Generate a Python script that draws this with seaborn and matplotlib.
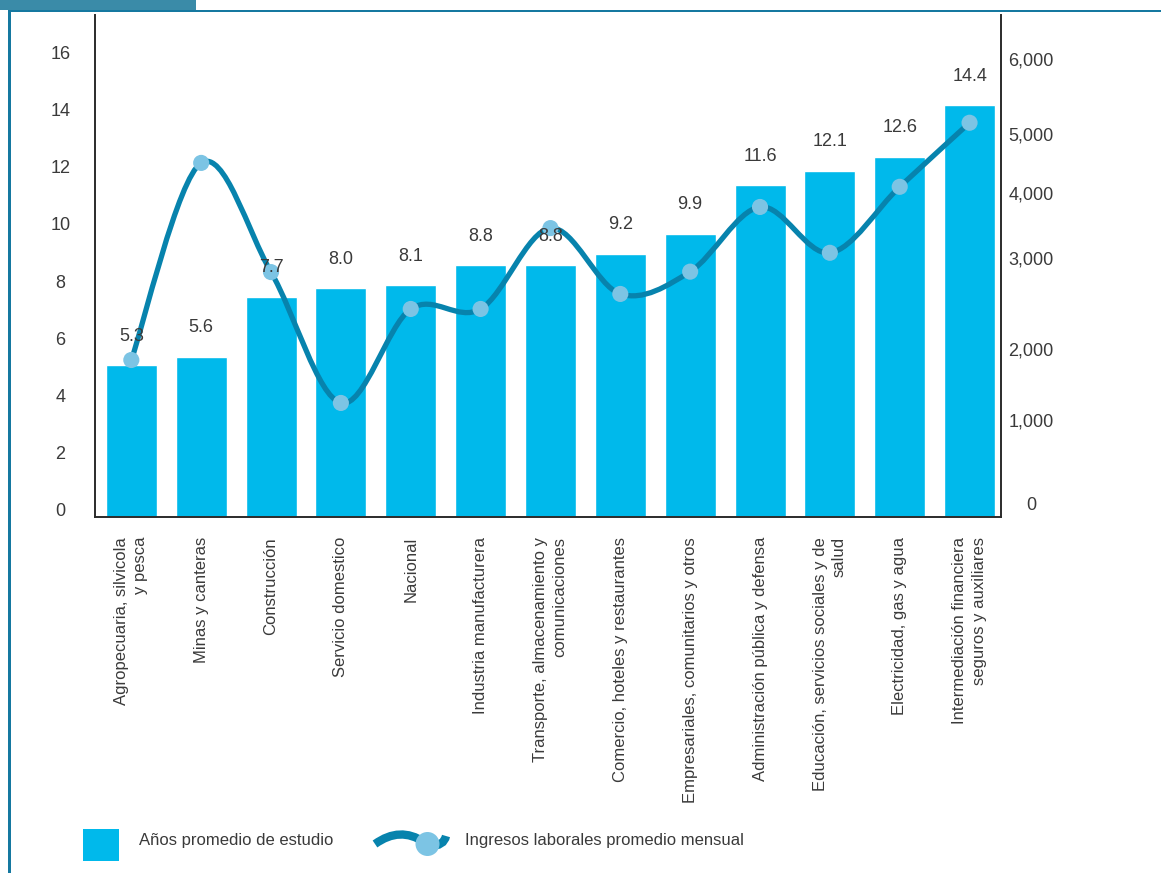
import numpy as np
import pandas as pd
import matplotlib
matplotlib.use("Agg")
import matplotlib.pyplot as plt
import matplotlib.transforms as mtransforms
from matplotlib.path import Path
from matplotlib.patches import PathPatch, Rectangle, Circle
import seaborn as sns

# ---------------- data ----------------
categories = [
    "Agropecuaria, silvicola\ny pesca",
    "Minas y canteras",
    "Construcción",
    "Servicio domestico",
    "Nacional",
    "Industria manufacturera",
    "Transporte, almacenamiento y\ncomunicaciones",
    "Comercio, hoteles y restaurantes",
    "Empresariales, comunitarios y otros",
    "Administración pública y defensa",
    "Educación, servicios sociales y de\nsalud",
    "Electricidad, gas y agua",
    "Intermediación financiera\nseguros y auxiliares",
]
years = [5.3, 5.6, 7.7, 8.0, 8.1, 8.8, 8.8, 9.2, 9.9, 11.6, 12.1, 12.6, 14.4]
income = [1845, 4510, 2845, 1240, 2440, 2440, 3460, 2605, 2850, 3785, 3080, 4105, 5150]
left_ticks = [0, 2, 4, 6, 8, 10, 12, 14, 16]
right_ticks = [0, 1000, 2000, 3000, 4000, 5000, 6000]
legend_labels = ["Años promedio de estudio", "Ingresos laborales promedio mensual"]

# ---------------- style ----------------
W, H = 1161, 873
BAR = "#00b9eb"
LINE = "#0783ad"
MARK = "#7cc4e4"
TXT = "#3a3a3a"
FRAME = "#1578a0"
TAB = "#3a8ba8"
# pixel height (above the x axis) where the right-axis labels sit in the original
RIGHT_H = np.array([13, 97, 168, 259, 324, 383, 458], float)
RV = np.array(right_ticks, float)

sns.set_style("white")
plt.rcParams["font.family"] = ["Liberation Sans", "DejaVu Sans"]
plt.rcParams["text.color"] = TXT

fig = plt.figure(figsize=(W / 100, H / 100), dpi=100)
ax_l, ax_r, ax_b, ax_t = 95, 1001, 517, 15
ax = fig.add_axes([ax_l / W, 1 - ax_b / H, (ax_r - ax_l) / W, (ax_b - ax_t) / H])

df = pd.DataFrame({"cat": categories, "years": years, "income": income})
sns.barplot(data=df, x="cat", y="years", ax=ax, color=BAR, saturation=1,
            width=0.73, zorder=2)

ax.set_ylim(0, (ax_b - ax_t) / 28.6)
ax.set_xlim(-0.52, len(categories) - 1 + 0.45)
ax.set_yticks(left_ticks)
ax.set_xlabel("")
ax.set_ylabel("")
for s in ["left", "bottom", "right"]:
    ax.spines[s].set_visible(True)
    ax.spines[s].set_color("#2b2b2b")
    ax.spines[s].set_linewidth(1.4)
ax.spines["top"].set_visible(False)
ax.tick_params(axis="y", length=0, pad=24.8, labelsize=13, labelcolor=TXT)
ax.tick_params(axis="x", length=0, pad=14.4, labelsize=12, labelcolor=TXT)
shift = mtransforms.ScaledTranslation(0, 7 / 100, fig.dpi_scale_trans)
for lab in ax.get_yticklabels():
    lab.set_ha("center")
    lab.set_transform(lab.get_transform() + shift)
ax.set_xticks(range(len(categories)))
ax.set_xticklabels(categories, rotation=90, ha="center", va="top",
                   multialignment="right", linespacing=1.35)

# ---------------- right axis ----------------
def fwd(v):
    v = np.asarray(v, float)
    out = np.interp(v, RV, RIGHT_H)
    lo_s = (RIGHT_H[1] - RIGHT_H[0]) / (RV[1] - RV[0])
    hi_s = (RIGHT_H[-1] - RIGHT_H[-2]) / (RV[-1] - RV[-2])
    out = np.where(v < RV[0], RIGHT_H[0] + (v - RV[0]) * lo_s, out)
    out = np.where(v > RV[-1], RIGHT_H[-1] + (v - RV[-1]) * hi_s, out)
    return out


def inv(h):
    h = np.asarray(h, float)
    out = np.interp(h, RIGHT_H, RV)
    lo_s = (RV[1] - RV[0]) / (RIGHT_H[1] - RIGHT_H[0])
    hi_s = (RV[-1] - RV[-2]) / (RIGHT_H[-1] - RIGHT_H[-2])
    out = np.where(h < RIGHT_H[0], RV[0] + (h - RIGHT_H[0]) * lo_s, out)
    out = np.where(h > RIGHT_H[-1], RV[-1] + (h - RIGHT_H[-1]) * hi_s, out)
    return out


ax2 = ax.twinx()
ax2.set_yscale("function", functions=(fwd, inv))
ax2.set_ylim(float(inv(0)), float(inv(ax_b - ax_t)))
ax2.set_yticks(right_ticks)
ax2.set_yticklabels([f"{t:,}" for t in right_ticks])
ax2.tick_params(axis="y", length=0, pad=21.6, labelsize=13, labelcolor=TXT)
for lab in ax2.get_yticklabels():
    lab.set_ha("center")
for s in ax2.spines.values():
    s.set_visible(False)
ax2.grid(False)

# smooth (Catmull-Rom) curve through the income points, built in scaled space
xs = np.arange(len(income), dtype=float)
hs = fwd(income)
P = np.column_stack([xs, hs])
Pp = np.vstack([P[0], P, P[-1]])
verts = [P[0]]
codes = [Path.MOVETO]
for i in range(len(P) - 1):
    c1 = Pp[i + 1] + (Pp[i + 2] - Pp[i]) / 6
    c2 = Pp[i + 2] - (Pp[i + 3] - Pp[i + 1]) / 6
    verts += [c1, c2, Pp[i + 2]]
    codes += [Path.CURVE4] * 3
verts = np.array(verts)
verts[:, 1] = inv(verts[:, 1])
ax2.add_patch(PathPatch(Path(verts, codes), facecolor="none", edgecolor=LINE,
                        lw=3.8, capstyle="round", zorder=3))
sns.scatterplot(x=xs, y=income, ax=ax2, s=135, color=MARK, edgecolor="none",
                linewidth=0, zorder=4, legend=False)
ax2.set_xlim(ax.get_xlim())

# value labels on top of everything
for i, v in enumerate(years):
    ax2.annotate(f"{v:.1f}", xy=(i, v), xycoords=ax.transData,
                 xytext=(0, 20.9), textcoords="offset points",
                 ha="center", va="center", fontsize=13, color=TXT, zorder=6)

# ---------------- legend (drawn manually) ----------------
def fx(x):
    return x / W


def fy(y):
    return 1 - y / H


fig.add_artist(Rectangle((fx(83), fy(861)), fx(36), 32 / H, transform=fig.transFigure,
                         facecolor=BAR, edgecolor="none"))
fig.text(fx(139), fy(840), legend_labels[0], ha="left", va="center", fontsize=12, color=TXT)
gl = Path([(fx(375), fy(844)), (fx(400), fy(826)), (fx(424), fy(842))],
          [Path.MOVETO, Path.CURVE3, Path.CURVE3])
fig.add_artist(PathPatch(gl, transform=fig.transFigure, facecolor="none",
                         edgecolor=LINE, lw=6))
gl2 = Path([(fx(430), fy(846)), (fx(444), fy(846)), (fx(446), fy(836))],
           [Path.MOVETO, Path.CURVE3, Path.CURVE3])
fig.add_artist(PathPatch(gl2, transform=fig.transFigure, facecolor="none",
                         edgecolor=LINE, lw=6))
fig.add_artist(Circle((427.5, H - 844), 12, transform=None, facecolor=MARK,
                      edgecolor="none"))
fig.text(fx(465), fy(840), legend_labels[1], ha="left", va="center", fontsize=12, color=TXT)

# ---------------- page frame ----------------
fig.add_artist(Rectangle((0, fy(10)), fx(196), 10 / H, transform=fig.transFigure,
                         facecolor=TAB, edgecolor="none"))
fig.add_artist(Rectangle((fx(8), fy(12)), 1 - fx(8), 2.5 / H, transform=fig.transFigure,
                         facecolor=FRAME, edgecolor="none"))
fig.add_artist(Rectangle((fx(8), 0), fx(2.5), fy(10), transform=fig.transFigure,
                         facecolor=FRAME, edgecolor="none"))

fig.savefig("out.png", dpi=100)
